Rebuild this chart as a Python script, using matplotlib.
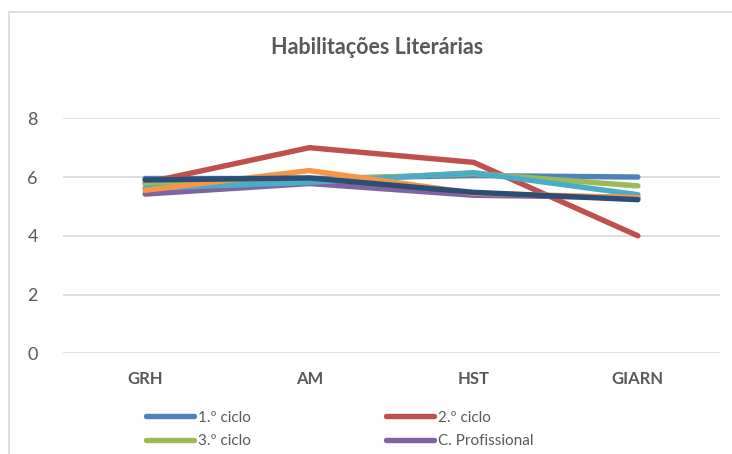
import matplotlib.pyplot as plt
from matplotlib.patches import Rectangle

plt.rcParams['font.family'] = ['Lato', 'DejaVu Sans']

categories = ["GRH", "AM", "HST", "GIARN"]
ciclo1 = [5.95, 5.95, 6.05, 6.0]
ciclo2 = [5.8, 7.0, 6.5, 4.0]
ciclo3 = [5.75, 5.9, 6.12, 5.7]
profissional = [5.42, 5.78, 5.38, 5.3]
serie5 = [5.62, 5.82, 6.15, 5.4]
serie6 = [5.55, 6.22, 5.45, 5.3]
serie7 = [5.9, 5.97, 5.48, 5.23]

series = [
    ("1.º ciclo", ciclo1, "#4F81BD"),
    ("2.º ciclo", ciclo2, "#C0504D"),
    ("3.º ciclo", ciclo3, "#9BBB59"),
    ("C. Profissional", profissional, "#8064A2"),
    ("_s5", serie5, "#4BACC6"),
    ("_s6", serie6, "#F79646"),
    ("_s7", serie7, "#2C4D75"),
]

fig = plt.figure(figsize=(7.32, 4.54), dpi=100)
ax = fig.add_axes([63 / 732, 1 - 353.3 / 454, 657 / 732, 235 / 454])

x = range(len(categories))
lines = []
for label, vals, color in series:
    ln, = ax.plot(x, vals, color=color, lw=3.9, solid_capstyle="round",
                  solid_joinstyle="round", label=label)
    lines.append(ln)

ax.set_xlim(-0.5, 3.5)
ax.set_ylim(0, 8)
ax.set_yticks([0, 2, 4, 6, 8])
ax.set_xticks(list(x))
ax.set_xticklabels(categories, fontweight="bold", fontsize=12, color="#595959")
ax.tick_params(axis="y", labelsize=13, labelcolor="#595959", length=0, pad=18)
ax.tick_params(axis="x", length=0, pad=13)
ax.grid(axis="y", color="#D9D9D9", lw=1.2)
ax.set_axisbelow(True)
for s in ax.spines.values():
    s.set_visible(False)

fig.text(377 / 732, 1 - 47 / 454, "Habilitações Literárias", ha="center", va="center",
         fontsize=15.5, fontweight="bold", color="#595959")

# row-wise legend order: 1.º / 2.º on the first row, 3.º / C. Prof on the second
order = [0, 2, 1, 3]
fig.legend([lines[i] for i in order], [series[i][0] for i in order],
           loc="upper left", bbox_to_anchor=(132 / 732, 1 - 397 / 454), ncol=2,
           frameon=False, fontsize=11, handlelength=3.15, handletextpad=0.25,
           columnspacing=8.85, labelspacing=0.6, labelcolor="#595959")

fig.patches.append(Rectangle((9 / 732, -0.1), 1.2, 1 - 12 / 454 + 0.1,
                             transform=fig.transFigure, fill=False,
                             edgecolor="#D9D9D9", lw=1.2))

fig.savefig("out.png", dpi=100)
